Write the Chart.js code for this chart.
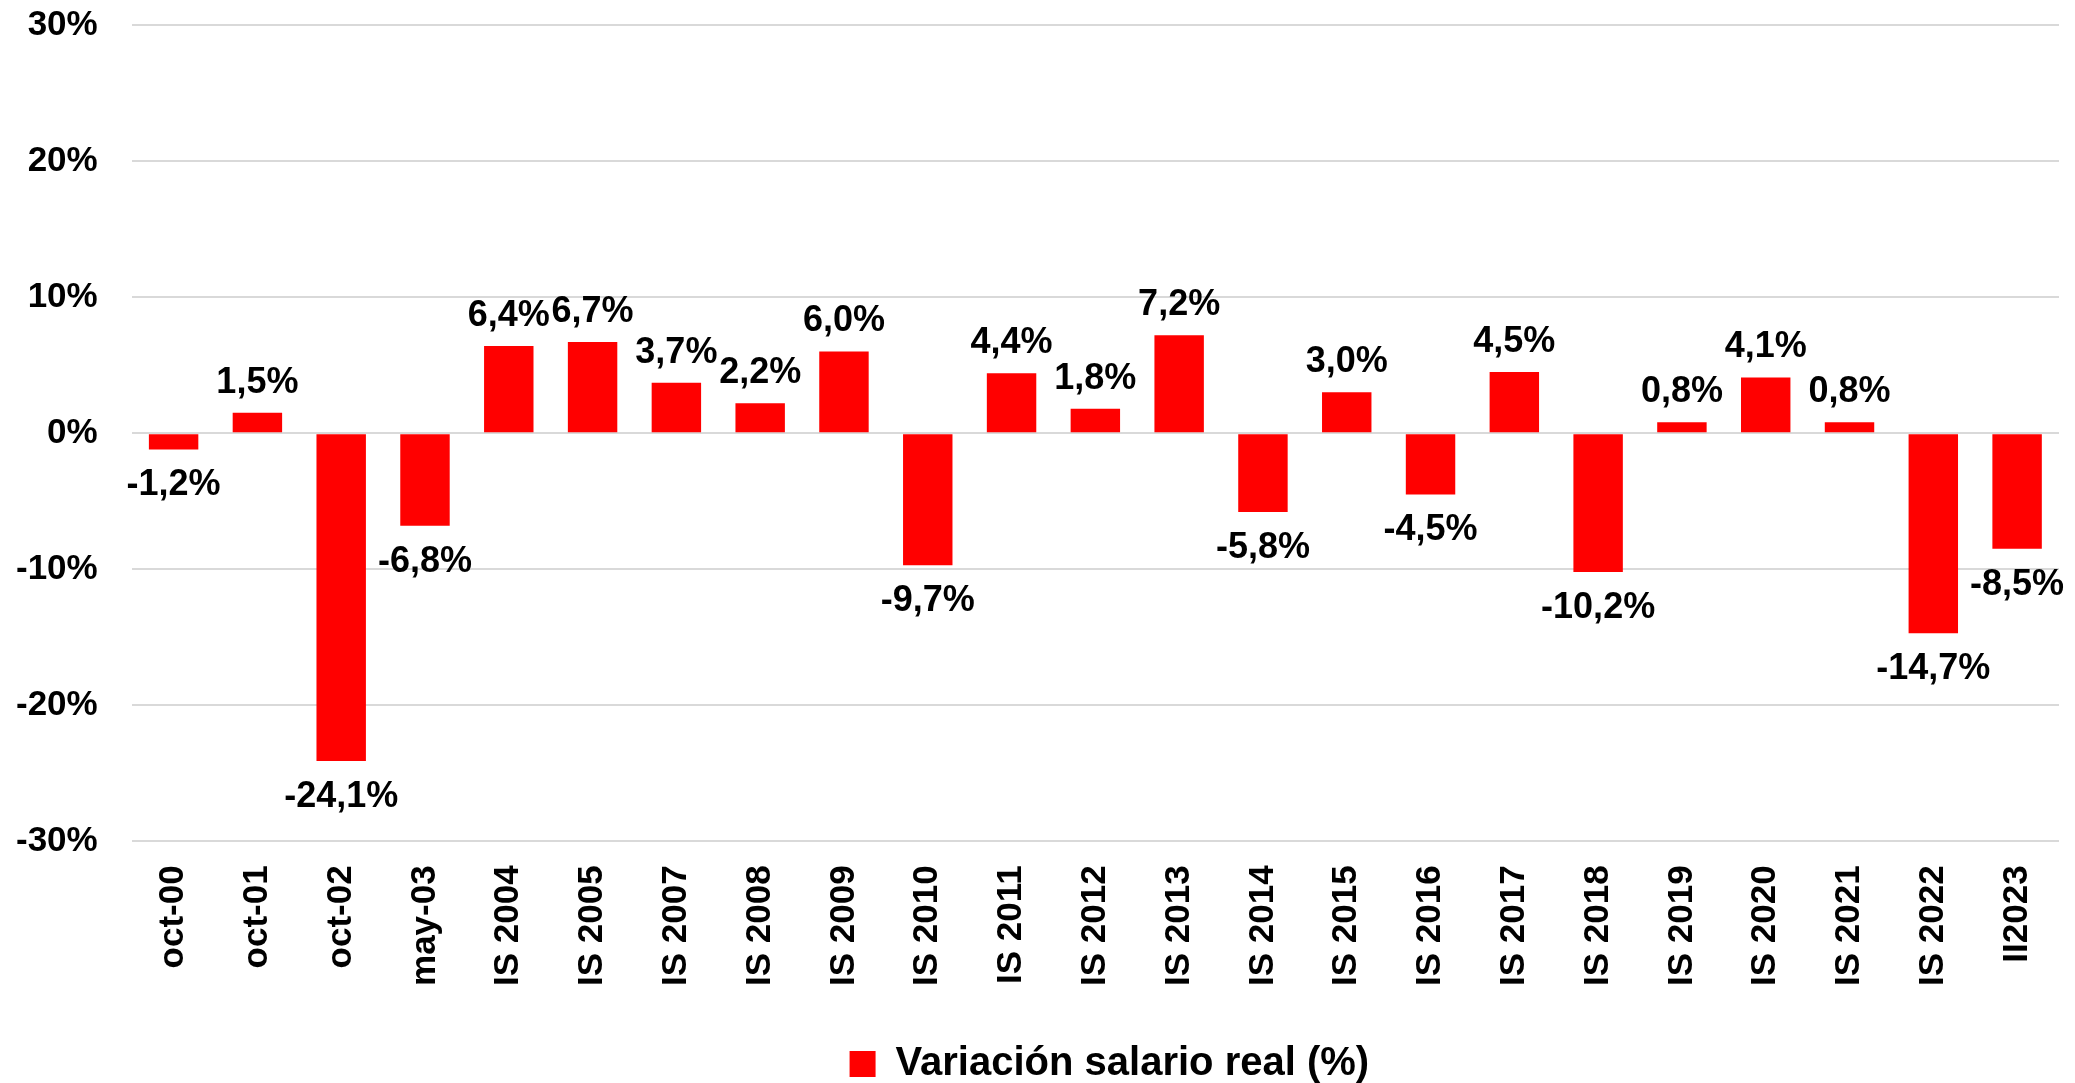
<!DOCTYPE html>
<html>
<head>
<meta charset="utf-8">
<script src="https://cdn.jsdelivr.net/npm/chart.js@4"></script>
<style>
  html, body { margin: 0; padding: 0; background: #fff; }
  #wrap { width: 2075px; height: 1083px; }
</style>
</head>
<body>
<div id="wrap"><canvas id="salChart"></canvas></div>
<script>
const periods = ["oct-00", "oct-01", "oct-02", "may-03", "IS 2004", "IS 2005", "IS 2007", "IS 2008",
  "IS 2009", "IS 2010", "IS 2011", "IS 2012", "IS 2013", "IS 2014", "IS 2015", "IS 2016",
  "IS 2017", "IS 2018", "IS 2019", "IS 2020", "IS 2021", "IS 2022", "II2023"];
const salaryChange = [-1.2, 1.5, -24.1, -6.8, 6.4, 6.7, 3.7, 2.2, 6.0, -9.7, 4.4, 1.8, 7.2,
  -5.8, 3.0, -4.5, 4.5, -10.2, 0.8, 4.1, 0.8, -14.7, -8.5];
const yTicks = [-30, -20, -10, 0, 10, 20, 30];

const fontMain = "'Liberation Sans', Arial, sans-serif";

function fmt(v) {
  return v.toFixed(1).replace(".", ",") + "%";
}

// value labels above / below each bar
const barLabels = {
  id: "barLabels",
  afterLayout(chart) {
    // legend centred under the plot area, like the original
    if (chart.legend) {
      chart.legend.left = chart.chartArea.left + 14;
      chart.legend.right = chart.chartArea.right + 14;
    }
  },
  afterDatasetsDraw(chart) {
    const ctx = chart.ctx;
    const meta = chart.getDatasetMeta(0);
    ctx.save();
    ctx.font = "bold 36px " + fontMain;
    ctx.fillStyle = "#000";
    ctx.textAlign = "center";
    meta.data.forEach((bar, i) => {
      const v = salaryChange[i];
      if (v >= 0) {
        ctx.textBaseline = "bottom";
        ctx.fillText(fmt(v), bar.x, bar.y - 12);
      } else {
        ctx.textBaseline = "top";
        ctx.fillText(fmt(v), bar.x, bar.y + 18);
      }
    });
    ctx.restore();
  }
};

new Chart(document.getElementById("salChart").getContext("2d"), {
  type: "bar",
  data: {
    labels: periods,
    datasets: [{
      label: "Variación salario real (%)",
      data: salaryChange,
      backgroundColor: "#ff0000",
      borderWidth: 0,
      barPercentage: 0.59,
      categoryPercentage: 1.0
    }]
  },
  options: {
    responsive: true,
    maintainAspectRatio: false,
    animation: false,
    layout: { padding: { top: 3, right: 16, left: -18, bottom: -11 } },
    plugins: {
      legend: {
        position: "bottom",
        labels: {
          boxWidth: 26,
          boxHeight: 26,
          padding: 34,
          color: "#000",
          font: { family: fontMain, size: 40, weight: "bold" }
        }
      },
      tooltip: { enabled: false }
    },
    scales: {
      x: {
        grid: { display: false, drawTicks: false },
        border: { display: false },
        afterFit(axis) {
          axis.paddingLeft = 0;
          axis.paddingRight = 0;
        },
        ticks: {
          color: "#000",
          maxRotation: 90,
          minRotation: 90,
          padding: 24,
          font: { family: fontMain, size: 35, weight: "bold" }
        }
      },
      y: {
        min: -30,
        max: 30,
        afterBuildTicks(axis) {
          axis.ticks = yTicks.map(v => ({ value: v }));
        },
        afterFit(axis) {
          axis.paddingTop = 25;
          axis.paddingBottom = 21;
        },
        grid: { color: "#d9d9d9", lineWidth: 2, drawTicks: false },
        border: { display: false },
        ticks: {
          color: "#000",
          padding: 34,
          font: { family: fontMain, size: 35, weight: "bold" },
          callback: v => v + "%"
        }
      }
    }
  },
  plugins: [barLabels]
});
</script>
</body>
</html>
